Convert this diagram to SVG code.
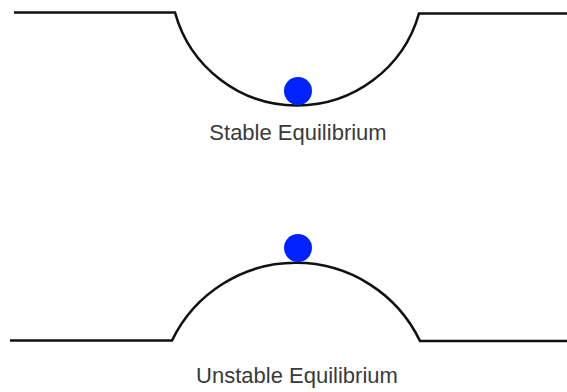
<svg xmlns="http://www.w3.org/2000/svg" width="567" height="392" viewBox="0 0 567 392">
<style>
.ground{fill:none;stroke:#111;stroke-width:2.6;stroke-linejoin:miter}
.ball{fill:#0022ff}
.label{font-family:"Liberation Sans",Arial,sans-serif;font-size:22px;fill:#3a3a3a;text-anchor:middle}
</style>
<rect width="567" height="392" fill="#fff"/>
<g id="stable">
<path class="ground" d="M14 12.5 H175 A126.7 126.7 0 0 0 419 13.5 H567"/>
<circle class="ball" cx="298" cy="91" r="14"/>
<text class="label" x="298" y="140">Stable Equilibrium</text>
</g>
<g id="unstable">
<path class="ground" d="M10 340.5 H172 A137.6 137.6 0 0 1 420 341 H567"/>
<circle class="ball" cx="298" cy="248" r="14"/>
<text class="label" x="297" y="383">Unstable Equilibrium</text>
</g>
</svg>
